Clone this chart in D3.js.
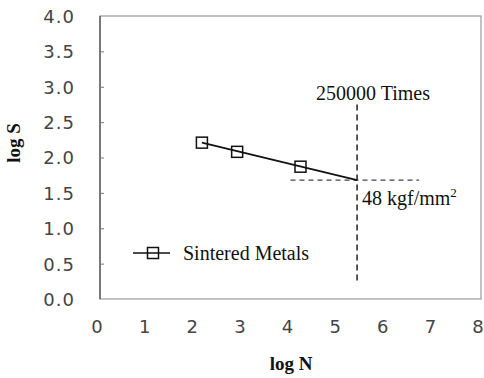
<!DOCTYPE html>
<html>
<head>
<meta charset="utf-8">
<script src="https://cdn.jsdelivr.net/npm/d3@7"></script>
<style>
  body { margin: 0; background: #fff; }
  svg { display: block; }
  .tick text { font-family: "DejaVu Sans", sans-serif; font-size: 18px; fill: #444; letter-spacing: 1px; }
  .serif { font-family: "Liberation Serif", "Times New Roman", serif; fill: #111; }
</style>
</head>
<body>
<svg id="chart" width="484" height="378"></svg>
<script>
// S-N data for sintered metals (log scale values)
const logN = [2.14, 2.88, 4.21];
const logS = [2.21, 2.08, 1.87];
// fitted line extended to the 250000 cycle limit
const fitEnd = [5.398, 1.68];
const refN = 5.398;   // log 250000
const refS = 1.68;    // log 48
const refNSpan = [0.25, 2.75];
const refSSpan = [4.0, 6.7];
const xTicks = [0, 1, 2, 3, 4, 5, 6, 7, 8];
const yTicks = [0, 0.5, 1, 1.5, 2, 2.5, 3, 3.5, 4];

const svg = d3.select('#chart');

const x = d3.scaleLinear().domain([0, 8]).range([100, 481]);
const y = d3.scaleLinear().domain([0, 4]).range([299, 16]);

// frame
svg.append('rect')
  .attr('x', x(0)).attr('y', y(4))
  .attr('width', x(8) - x(0)).attr('height', y(0) - y(4))
  .attr('fill', 'none').attr('stroke', '#999').attr('stroke-width', 1.2);
svg.append('line')
  .attr('x1', x(0)).attr('x2', x(0)).attr('y1', y(4)).attr('y2', y(0))
  .attr('stroke', '#666').attr('stroke-width', 1.6);

// y axis
const gy = svg.append('g')
  .attr('transform', 'translate(' + x(0) + ',0)')
  .call(d3.axisLeft(y).tickValues(yTicks).tickFormat(d3.format('.1f'))
    .tickSizeInner(-4).tickSizeOuter(0).tickPadding(25));
gy.select('.domain').remove();
gy.selectAll('.tick line').attr('stroke', '#777')
  .filter(d => d === 0 || d === 4).remove();
gy.selectAll('.tick text').attr('dy', '0.36em');

// x axis
const gx = svg.append('g')
  .attr('transform', 'translate(0,' + y(0) + ')')
  .call(d3.axisBottom(x).tickValues(xTicks).tickFormat(d3.format('d'))
    .tickSize(0).tickPadding(21));
gx.select('.domain').remove();
gx.selectAll('.tick text').attr('x', -3).attr('letter-spacing', 0);

// axis titles
svg.append('text').attr('class', 'serif')
  .attr('x', 291).attr('y', 370)
  .attr('text-anchor', 'middle')
  .attr('font-size', 19).attr('font-weight', 'bold')
  .text('log N');
svg.append('text').attr('class', 'serif')
  .attr('transform', 'translate(20,' + 143 + ') rotate(-90)')
  .attr('text-anchor', 'middle')
  .attr('font-size', 19).attr('font-weight', 'bold')
  .text('log S');

// reference lines
svg.append('line')
  .attr('x1', x(refN)).attr('x2', x(refN))
  .attr('y1', y(refNSpan[1])).attr('y2', y(refNSpan[0]))
  .attr('stroke', '#111').attr('stroke-width', 1.4)
  .attr('stroke-dasharray', '6,4');
svg.append('line')
  .attr('x1', x(refSSpan[0])).attr('x2', x(refSSpan[1]))
  .attr('y1', y(refS)).attr('y2', y(refS))
  .attr('stroke', '#444').attr('stroke-width', 1.2)
  .attr('stroke-dasharray', '5,4');

// fitted line
const pts = logN.map((n, i) => [n, logS[i]]);
const line = d3.line().x(d => x(d[0])).y(d => y(d[1]));
svg.append('path')
  .datum([pts[0], fitEnd])
  .attr('d', line)
  .attr('fill', 'none').attr('stroke', '#111').attr('stroke-width', 1.6);

// markers
const sq = 11;
svg.selectAll('.pt')
  .data(pts)
  .enter().append('rect')
  .attr('class', 'pt')
  .attr('x', d => x(d[0]) - sq / 2)
  .attr('y', d => y(d[1]) - sq / 2)
  .attr('width', sq).attr('height', sq)
  .attr('fill', 'none').attr('stroke', '#111').attr('stroke-width', 1.5);

// annotations
svg.append('text').attr('class', 'serif')
  .attr('x', 316).attr('y', 100)
  .attr('font-size', 20)
  .text('250000 Times');
const t48 = svg.append('text').attr('class', 'serif')
  .attr('x', 362).attr('y', 205)
  .attr('font-size', 20);
t48.append('tspan').text('48 kgf/mm');
t48.append('tspan').attr('dy', -8).attr('font-size', 13).text('2');

// legend
const lg = svg.append('g').attr('transform', 'translate(133,253)');
lg.append('line').attr('x1', 0).attr('x2', 37).attr('y1', 0).attr('y2', 0)
  .attr('stroke', '#111').attr('stroke-width', 1.6);
lg.append('rect').attr('x', 20 - sq / 2).attr('y', -sq / 2)
  .attr('width', sq).attr('height', sq)
  .attr('fill', 'none').attr('stroke', '#111').attr('stroke-width', 1.5);
lg.append('text').attr('class', 'serif')
  .attr('x', 50).attr('y', 7)
  .attr('font-size', 20)
  .text('Sintered Metals');
</script>
</body>
</html>
